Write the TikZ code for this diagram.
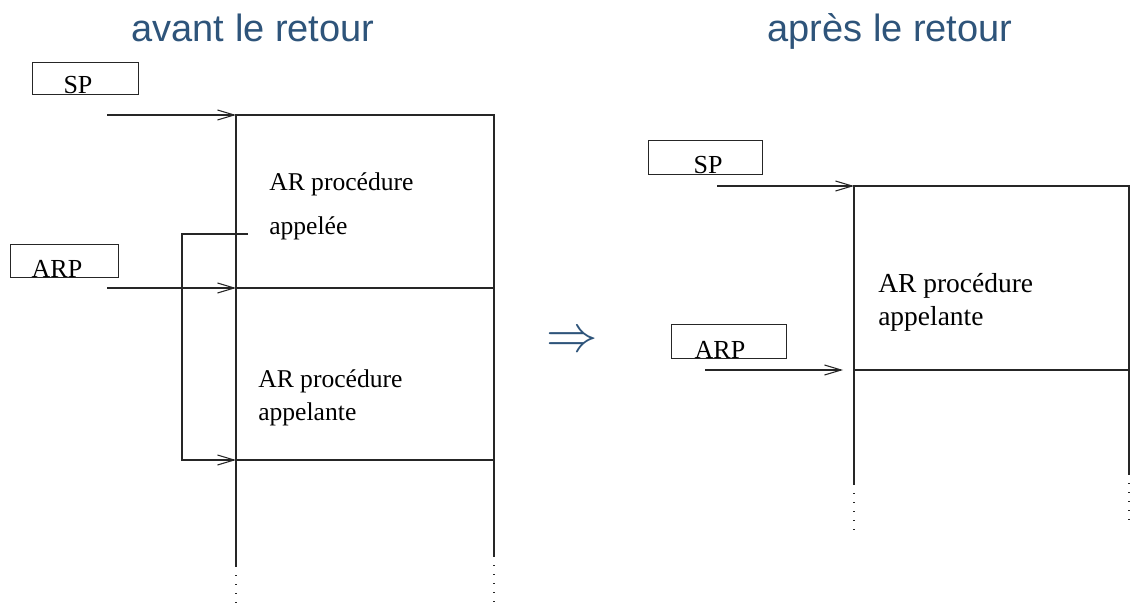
\documentclass[tikz,border=0pt]{standalone}
\usepackage{fontspec}
\setmainfont{Liberation Serif}
\newfontfamily\titlefont{Liberation Sans}
\usetikzlibrary{arrows.meta}
\definecolor{titleblue}{RGB}{46,84,122}
\begin{document}
\begin{tikzpicture}[x=0.75pt,y=-0.75pt,
  wall/.style={line width=0.8pt, draw=black!85},
  tail/.style={line width=0.8pt, draw=black!85, dash pattern=on 0.8pt off 6pt},
  regbox/.style={draw=black!85, line width=0.8pt, rectangle, inner sep=0pt,
    anchor=north west},
  reglabel/.style={anchor=base, inner sep=0pt, font=\fontsize{19.5}{23}\selectfont},
  ptr/.style={line width=0.8pt, draw=black!85,
    -{Straight Barb[length=12.5pt,width=7.5pt,line width=0.8pt]}},
  txtL/.style={anchor=base west, inner sep=0pt, font=\fontsize{19.2}{23}\selectfont},
  txtR/.style={anchor=base west, inner sep=0pt, font=\fontsize{20.6}{24}\selectfont},
  heading/.style={anchor=base, inner sep=0pt, text=titleblue,
    font=\titlefont\fontsize{28.5}{34}\selectfont}]
\useasboundingbox (0,0) rectangle (1132,613);

% ---------- headings ----------
\node[heading] (hL) at (253,42) {avant le retour};
\node[heading] (hR) at (890,42) {après le retour};

% ---------- stack before the return ----------
\coordinate (L-tl) at (236,115);
\coordinate (L-tr) at (494,115);
\coordinate (L-ml) at (236,288);
\coordinate (L-mr) at (494,288);
\coordinate (L-bl) at (236,460);
\coordinate (L-br) at (494,460);
\coordinate (L-endl) at (236,566);
\coordinate (L-endr) at (494,556);
\coordinate (L-dotl) at (236,606);
\coordinate (L-dotr) at (494,602);

\draw[wall] (L-endl) -- (L-tl) -- (L-tr) -- (L-endr);
\draw[wall] (L-ml) -- (L-mr);
\draw[wall] (L-bl) -- (L-br);
\draw[tail] (L-endl) -- (L-dotl);
\draw[tail] (L-endr) -- (L-dotr);

\node[txtL] (calleeA) at (269,191) {AR procédure};
\node[txtL] (calleeB) at (269,234) {appelée};
\node[txtL] (callerA) at (258,387) {AR procédure};
\node[txtL] (callerB) at (258,420) {appelante};

% registers
\node[regbox, minimum width=79.5pt, minimum height=24pt] (spboxL) at (32,62) {};
\node[reglabel] (spL) at (78,94) {SP};
\node[regbox, minimum width=81pt, minimum height=24.75pt] (arpboxL) at (10,244) {};
\node[reglabel] (arpL) at (57,277) {ARP};

\coordinate (spL-from) at (107,115);
\coordinate (arpL-from) at (107,288);
\draw[ptr] (spL-from) -- (L-tl);
\draw[ptr] (arpL-from) -- (L-ml);

% saved link of the called record
\coordinate (link-start) at (248,234);
\coordinate (link-up) at (182,234);
\coordinate (link-down) at (182,460);
\draw[ptr] (link-start) -- (link-up) -- (link-down) -- (L-bl);

% ---------- transition ----------
\node[text=titleblue, inner sep=0pt, font=\fontsize{24.88}{28}\selectfont,
  scale=1.55, transform shape] (trans) at (572,342) {$\Rightarrow$};

% ---------- stack after the return ----------
\coordinate (R-tl) at (854,186);
\coordinate (R-tr) at (1129,186);
\coordinate (R-ml) at (854,370);
\coordinate (R-mr) at (1129,370);
\coordinate (R-endl) at (854,484);
\coordinate (R-endr) at (1129,474);
\coordinate (R-dotl) at (854,536);
\coordinate (R-dotr) at (1129,524);

\draw[wall] (R-endl) -- (R-tl) -- (R-tr) -- (R-endr);
\draw[wall] (R-ml) -- (R-mr);
\draw[tail] (R-endl) -- (R-dotl);
\draw[tail] (R-endr) -- (R-dotr);

\node[txtR] (callerRA) at (878,292) {AR procédure};
\node[txtR] (callerRB) at (878,325) {appelante};

\node[regbox, minimum width=85.5pt, minimum height=25.5pt] (spboxR) at (648,140) {};
\node[reglabel] (spR) at (708,174) {SP};
\node[regbox, minimum width=86.25pt, minimum height=25.5pt] (arpboxR) at (671,324) {};
\node[reglabel] (arpR) at (720,358) {ARP};

\coordinate (spR-from) at (717,186);
\coordinate (arpR-from) at (705,370);
\coordinate (arpR-to) at (843,370);
\draw[ptr] (spR-from) -- (R-tl);
\draw[ptr] (arpR-from) -- (arpR-to);
\end{tikzpicture}
\end{document}
